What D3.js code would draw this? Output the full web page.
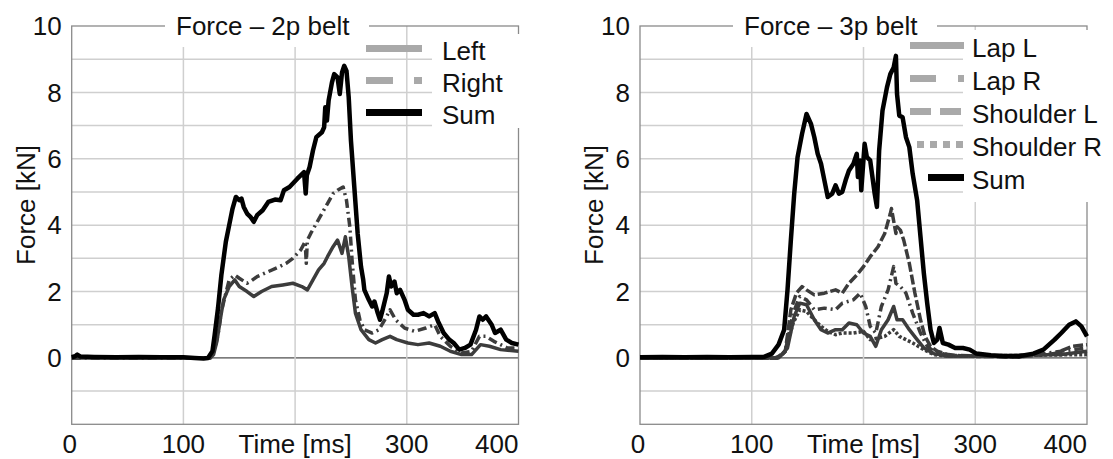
<!DOCTYPE html>
<html>
<head>
<meta charset="utf-8">
<script src="https://cdn.jsdelivr.net/npm/d3@7"></script>
<style>
  html, body { margin: 0; padding: 0; background: #fff; }
  svg { display: block; font-family: "Liberation Sans", Arial, sans-serif; }
</style>
</head>
<body>
<div id="chart"></div>
<script>
// Tick labels (200 ms label is replaced by the axis title)
const xTicks = [0, 100, 200, 300, 400];
const yTicks = [10, 8, 6, 4, 2, 0];

// 2p belt, [time ms, force kN]
const belt2pLeft = [[0,0],[124,0],[127,0.1],[130,0.5],[133,1.15],[136,1.75],[141,2.15],[146,2.35],[150,2.15],[157,2.0],[163,1.85],[170,2.0],[179,2.15],[189,2.2],[198,2.25],[206,2.15],[211,2.05],[216,2.35],[221,2.65],[226,2.85],[229,3.05],[234,3.35],[238,3.55],[242,3.15],[245,3.65],[248,3.05],[251,2.15],[254,1.35],[259,0.85],[266,0.55],[272,0.45],[278,0.55],[285,0.65],[291,0.55],[301,0.45],[310,0.4],[320,0.45],[330,0.35],[339,0.2],[349,0.1],[358,0.1],[366,0.4],[374,0.35],[384,0.25],[400,0.2]];
const belt2pRight = [[0,0],[124,0],[128,0.3],[131,0.7],[134,1.4],[138,1.95],[141,2.35],[146,2.5],[150,2.4],[157,2.25],[160,2.3],[166,2.45],[176,2.6],[186,2.75],[192,2.85],[198,3.0],[205,3.25],[209,3.5],[210,2.85],[211,3.55],[214,3.75],[219,4.05],[224,4.35],[229,4.65],[234,4.95],[238,5.05],[243,5.15],[246,4.75],[249,3.95],[251,2.95],[254,1.75],[258,1.15],[262,0.85],[269,0.75],[275,0.85],[282,1.25],[285,1.45],[290,1.15],[298,0.9],[307,0.8],[317,0.9],[325,1.0],[330,0.65],[339,0.35],[349,0.15],[358,0.2],[365,0.65],[371,0.65],[378,0.5],[384,0.4],[390,0.3],[400,0.3]];
const belt2pSum = [[0,0.02],[3,0.05],[5,0.1],[8,0.04],[20,0.03],[40,0.02],[60,0.03],[80,0.02],[100,0.02],[110,0],[118,-0.02],[122,0],[126,0.2],[128,0.7],[131,1.5],[134,2.5],[138,3.5],[141,4.0],[144,4.5],[147,4.85],[150,4.75],[152,4.8],[154,4.55],[157,4.35],[160,4.25],[163,4.1],[166,4.3],[171,4.45],[176,4.7],[182,4.77],[187,4.75],[190,5.05],[195,5.15],[202,5.4],[208,5.6],[209.5,4.95],[210.5,5.5],[213,5.75],[216,6.25],[219,6.65],[224,6.8],[226,6.95],[227,7.55],[228.5,7.15],[230,7.75],[233,8.3],[235,8.55],[238,8.45],[240,7.95],[242,8.6],[244,8.8],[246,8.65],[248,7.85],[250,6.55],[253,5.15],[256,3.75],[259,2.75],[261,2.35],[262,2.05],[266,1.75],[269,1.55],[271,1.7],[274,1.35],[276,1.15],[278,1.4],[282,1.95],[284,2.45],[286,2.15],[289,2.3],[291,1.95],[294,2.05],[298,1.75],[301,1.45],[306,1.3],[310,1.3],[315,1.35],[320,1.25],[325,1.35],[328,1.1],[333,0.75],[338,0.55],[342,0.45],[347,0.25],[352,0.3],[357,0.4],[362,0.85],[365,1.25],[368,1.15],[371,1.25],[376,1.0],[379,0.75],[384,0.85],[389,0.55],[394,0.45],[400,0.4]];

// 3p belt
const belt3pLapL = [[0,0],[124,0],[132,0.3],[138,1.25],[143,1.65],[149,1.6],[156,1.15],[162,0.85],[168,0.75],[175,0.85],[181,0.85],[187,1.05],[194,1.0],[200,0.75],[206,0.65],[211,0.35],[216,0.85],[222,1.15],[227,1.55],[230,1.15],[235,1.15],[241,0.85],[248,0.55],[254,0.3],[263,0.13],[276,0.05],[377,0.1],[400,0.2]];
const belt3pLapR = [[0,0],[122,0],[130,0.2],[137,1.35],[143,1.85],[149,1.75],[156,1.45],[165,1.5],[175,1.45],[181,1.65],[191,1.75],[197,1.95],[202,1.55],[206,0.95],[211,0.75],[216,1.55],[222,2.05],[227,2.75],[229,2.25],[233,2.15],[238,1.95],[244,1.35],[251,0.75],[257,0.35],[263,0.2],[276,0.08],[339,0.03],[377,0.2],[400,0.3]];
const belt3pShoulderL = [[0,0],[120,0],[126,0.05],[130,0.2],[135,1.45],[140,1.95],[145,2.15],[149,2.05],[156,1.9],[165,1.95],[175,2.05],[181,1.95],[187,2.25],[194,2.5],[200,2.75],[206,3.05],[213,3.35],[219,3.75],[224,4.35],[225,4.5],[229,3.75],[230,3.95],[233,3.85],[236,3.55],[241,2.85],[246,1.95],[251,1.15],[255,0.65],[260,0.35],[266,0.2],[276,0.1],[292,0.05],[339,0.03],[371,0.13],[387,0.35],[400,0.4]];
const belt3pShoulderR = [[0,0],[124,0],[130,0.2],[137,1.05],[143,1.45],[149,1.4],[156,1.15],[162,0.95],[168,0.8],[175,0.7],[181,0.75],[191,0.75],[200,0.8],[206,0.55],[213,0.6],[219,0.65],[227,0.85],[232,0.65],[238,0.55],[244,0.45],[254,0.25],[263,0.1],[276,0.05],[400,0.1]];
const belt3pSum = [[0,0.02],[20,0.03],[40,0.02],[60,0.03],[80,0.02],[100,0.03],[111,0.03],[118,0.13],[124,0.4],[129,0.85],[132,2.05],[135,3.55],[138,4.95],[141,6.05],[145,6.75],[149,7.35],[153,7.05],[156,6.65],[159,6.15],[162,5.85],[165,5.35],[168,4.85],[172,4.95],[175,5.2],[178,4.95],[181,5.0],[184,5.35],[187,5.65],[191,5.85],[194,6.15],[195,5.45],[197,5.95],[198,5.05],[201,6.45],[203,6.05],[206,5.95],[210,4.95],[212,4.55],[214,6.25],[217,7.45],[221,8.15],[224,8.55],[227,8.75],[229,9.1],[230,7.95],[232,7.3],[235,7.25],[238,6.65],[241,6.35],[244,5.55],[248,4.75],[251,3.65],[254,2.55],[257,1.65],[260,0.85],[263,0.45],[266,0.55],[268,0.9],[271,0.45],[276,0.4],[282,0.3],[289,0.3],[295,0.25],[301,0.13],[314,0.08],[327,0.05],[339,0.05],[352,0.13],[361,0.25],[371,0.55],[377,0.75],[384,1.0],[390,1.1],[395,0.95],[400,0.65]];

const W = 1113, H = 459;
const dark = '#3c3c3c', legendGray = '#a9a9a9';

const svg = d3.select('#chart').append('svg')
  .attr('width', W).attr('height', H)
  .attr('viewBox', `0 0 ${W} ${H}`);

const panels = [
  {
    left: 71.7, right: 518.5, title: 'Force \u2013 2p belt', titleX: 176, titleBox: [165, 369],
    legendTextX: 442, legendBox: [432, 34, 88, 94], rowY: [60, 92, 124],
    series: [
      { name: 'Left', data: belt2pLeft, color: dark, w: 3.5, dash: null, key: [366, 422, null] },
      { name: 'Right', data: belt2pRight, color: dark, w: 3.5, dash: '9,4,2,4', key: [366, 422, '27,21,8'] },
      { name: 'Sum', data: belt2pSum, color: '#000', w: 4.5, dash: null, key: [366, 422, null], black: true }
    ]
  },
  {
    left: 640, right: 1087, title: 'Force \u2013 3p belt', titleX: 744, titleBox: [733, 937],
    legendTextX: 972, legendBox: [963, 30, 150, 172], rowY: [57, 90, 123, 156, 189],
    series: [
      { name: 'Lap L', data: belt3pLapL, color: dark, w: 3.5, dash: null, key: [910, 964, null] },
      { name: 'Lap R', data: belt3pLapR, color: dark, w: 3.5, dash: '9,4,2,4', key: [910, 964, '26,22,6'] },
      { name: 'Shoulder L', data: belt3pShoulderL, color: dark, w: 3.5, dash: '10,3', key: [910, 965, '21,9'] },
      { name: 'Shoulder R', data: belt3pShoulderR, color: dark, w: 3.5, dash: '3,2', key: [917, 965, '7,6'] },
      { name: 'Sum', data: belt3pSum, color: '#000', w: 4.5, dash: null, key: [928, 964, null], black: true }
    ]
  }
];

const plotTop = 26, plotBottom = 424.3;

panels.forEach(p => {
  const g = svg.append('g');
  const x = d3.scaleLinear().domain([0, 400]).range([p.left, p.right]);
  const y = d3.scaleLinear().domain([-2, 10]).range([plotBottom, plotTop]);

  // grid
  g.append('g').selectAll('line').data(d3.range(-1, 10)).join('line')
    .attr('x1', p.left).attr('x2', p.right)
    .attr('y1', d => y(d)).attr('y2', d => y(d))
    .attr('stroke', d => d === 0 ? '#222' : '#cfcfcf')
    .attr('stroke-width', d => d === 0 ? 1 : 1.5);
  g.append('g').selectAll('line').data([100, 200, 300]).join('line')
    .attr('x1', d => x(d)).attr('x2', d => x(d))
    .attr('y1', plotTop).attr('y2', plotBottom)
    .attr('stroke', '#cfcfcf').attr('stroke-width', 1.5);

  // plot frame
  g.append('rect')
    .attr('x', p.left).attr('y', plotTop)
    .attr('width', p.right - p.left).attr('height', plotBottom - plotTop)
    .attr('fill', 'none').attr('stroke', '#8a8a8a').attr('stroke-width', 1.3);

  // white boxes behind title and legend text
  g.append('rect').attr('x', p.titleBox[0]).attr('y', 0)
    .attr('width', p.titleBox[1] - p.titleBox[0]).attr('height', 47).attr('fill', '#fff');
  g.append('rect').attr('x', p.legendBox[0]).attr('y', p.legendBox[1])
    .attr('width', p.legendBox[2]).attr('height', p.legendBox[3]).attr('fill', '#fff');

  // data lines
  const line = d3.line().x(d => x(d[0])).y(d => y(d[1]));
  g.append('g').selectAll('path').data(p.series).join('path')
    .attr('d', s => line(s.data))
    .attr('fill', 'none')
    .attr('stroke', s => s.color)
    .attr('stroke-width', s => s.w)
    .attr('stroke-linejoin', 'round')
    .attr('stroke-dasharray', s => s.dash);

  // legend
  const lg = g.append('g');
  p.series.forEach((s, i) => {
    const ry = p.rowY[i];
    lg.append('line')
      .attr('x1', s.key[0]).attr('x2', s.key[1])
      .attr('y1', ry - 11.5).attr('y2', ry - 11.5)
      .attr('stroke', s.black ? '#000' : legendGray)
      .attr('stroke-width', 7)
      .attr('stroke-dasharray', s.key[2]);
    lg.append('text')
      .attr('x', p.legendTextX).attr('y', ry)
      .attr('font-size', 26).attr('fill', '#111')
      .text(s.name);
  });

  // title
  g.append('text').attr('x', p.titleX).attr('y', 35)
    .attr('font-size', 26).attr('fill', '#111').text(p.title);

  // axis labels
  g.append('g').selectAll('text').data(yTicks).join('text')
    .attr('x', p.left - 10).attr('y', d => y(d) + 9.3)
    .attr('text-anchor', 'end').attr('font-size', 26).attr('fill', '#111')
    .text(d => d);
  g.append('g').selectAll('text').data(xTicks).join('text')
    .attr('x', d => d === 400 ? p.right : x(d) - (d === 0 ? 2 : 0))
    .attr('y', 453)
    .attr('text-anchor', d => d === 400 ? 'end' : 'middle')
    .attr('font-size', 26).attr('fill', '#111')
    .text(d => d === 200 ? 'Time [ms]' : d);
  g.append('text')
    .attr('transform', `translate(${p.left - 46},205) rotate(-90)`)
    .attr('text-anchor', 'middle').attr('dominant-baseline', 'central')
    .attr('font-size', 26).attr('fill', '#111')
    .text('Force [kN]');
});
</script>
</body>
</html>
